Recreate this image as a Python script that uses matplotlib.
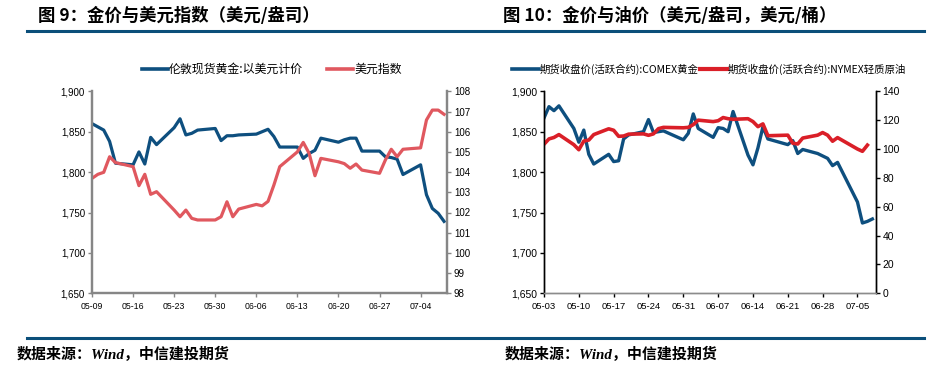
import pandas as pd
import matplotlib.pyplot as plt
from matplotlib.lines import Line2D
from matplotlib.transforms import Bbox, TransformedBbox

plt.rcParams['font.family'] = ['Liberation Sans', 'Noto Sans CJK SC']

# 图9：伦敦现货黄金 与 美元指数（交易日）
dates9 = pd.bdate_range('2022-05-09', '2022-07-08')
gold_spot = [1860, 1856, 1852, 1838, 1811,
             1809, 1825, 1810, 1843, 1834,
             1855, 1866, 1846, 1848, 1852,
             1854, 1839, 1845, 1845, 1846,
             1847, 1850, 1853, 1844, 1831,
             1831, 1817, 1823, 1827, 1842,
             1837, 1840, 1842, 1842, 1826,
             1826, 1819, 1818, 1816, 1797,
             1809, 1772, 1755, 1749, 1739]
usd_index = [103.69, 103.89, 103.99, 104.76, 104.47,
             104.27, 103.33, 103.89, 102.90, 103.03,
             102.12, 101.79, 102.12, 101.71, 101.63,
             101.63, 101.79, 102.53, 101.79, 102.17,
             102.40, 102.33, 102.55, 103.36, 104.27,
             105.00, 105.47, 104.93, 103.82, 104.68,
             104.51, 104.42, 104.19, 104.40, 104.10,
             103.94, 104.60, 105.13, 104.76, 105.13,
             105.20, 106.58, 107.07, 107.07, 106.86]

# 图10：COMEX黄金 与 NYMEX轻质原油（美国休市日无数据）
holidays10 = ['2022-05-30', '2022-06-20', '2022-07-04']
dates10 = pd.bdate_range('2022-05-03', '2022-07-08').drop(pd.to_datetime(holidays10))
comex_gold = [1867, 1881, 1876, 1882,
              1854, 1837, 1852, 1822, 1810,
              1822, 1813, 1814, 1841, 1846,
              1850, 1865, 1849, 1850, 1851,
              1840, 1848, 1872, 1854,
              1843, 1855, 1854, 1850, 1875,
              1821, 1809, 1830, 1856, 1841,
              1834, 1839, 1823, 1828,
              1823, 1820, 1817, 1808, 1812,
              1763, 1737, 1739, 1742]
wti_oil = [103.3, 107.0, 108.0, 110.0,
           103.0, 99.5, 105.5, 106.2, 110.0,
           114.0, 113.0, 108.8, 109.0, 110.3,
           110.5, 109.5, 110.5, 114.1, 115.0,
           114.7, 115.0, 116.9, 120.0,
           119.0, 119.6, 121.8, 121.0, 120.6,
           121.0, 119.0, 115.5, 117.4, 109.2,
           109.6, 104.0, 103.5, 107.6,
           109.6, 111.4, 109.6, 105.4, 107.9,
           100.0, 98.4, 102.7]

gold_ticks = [1650, 1700, 1750, 1800, 1850, 1900]
gold_labels = ['1,650', '1,700', '1,750', '1,800', '1,850', '1,900']
usd_ticks = list(range(98, 109))
oil_ticks = list(range(0, 141, 20))
xticks9 = pd.date_range('2022-05-09', '2022-07-04', freq='7D')
xticks10 = pd.date_range('2022-05-03', '2022-07-05', freq='7D')

BLUE = '#0E4F7F'
RED9 = '#E0585F'
RED10 = '#DA1F28'
BAR = '#0B4F7A'

W, H = 940, 378
fig = plt.figure(figsize=(9.4, 3.78), dpi=100)


def fx(px):
    return px / W


def fy(py):
    return 1 - py / H


def style_axis(ax, color, lw):
    ax.spines['top'].set_visible(False)
    for s in ['left', 'right', 'bottom']:
        ax.spines[s].set_color(color)
        ax.spines[s].set_linewidth(lw)
    ax.tick_params(axis='both', direction='out', length=3, width=1,
                   color=color, labelsize=7, labelcolor='black', pad=2)


# ---------- 图9 ----------
ax1 = fig.add_axes([fx(92), fy(293.3), fx(447 - 92), (293.3 - 91.3) / H])
ax1.plot(dates9, gold_spot, color=BLUE, lw=2.3, label='伦敦现货黄金:以美元计价')
ax1.set_ylim(1650, 1900)
ax1.set_yticks(gold_ticks)
ax1.set_yticklabels(gold_labels)
ax1.set_xlim(dates9[0], dates9[-1] + pd.Timedelta(hours=12))
ax1.set_xticks(xticks9)
ax1.set_xticklabels([d.strftime('%m-%d') for d in xticks9])
style_axis(ax1, '#868686', 1.6)
ax1.tick_params(axis='x', labelsize=6.3, pad=3)

ax1b = ax1.twinx()
ax1b.plot(dates9, usd_index, color=RED9, lw=2.3, label='美元指数')
ax1b.set_ylim(98, 108)
ax1b.set_yticks(usd_ticks)
style_axis(ax1b, '#868686', 1.6)

h1 = [Line2D([], [], color=BLUE, lw=2.6), Line2D([], [], color=RED9, lw=2.6)]
leg1 = fig.legend(h1, ['伦敦现货黄金:以美元计价', '美元指数'], loc='center left',
                  bbox_to_anchor=(fx(141.5), fy(69.3)), bbox_transform=fig.transFigure,
                  ncol=2, frameon=False, borderpad=0, borderaxespad=0,
                  handlelength=2.2, handletextpad=0.1, columnspacing=2.0,
                  prop={'family': 'Noto Sans CJK SC', 'size': 8.6})

# ---------- 图10 ----------
ax2 = fig.add_axes([fx(544), fy(293.3), fx(875.7 - 544), (293.3 - 91.3) / H])
ax2.plot(dates10, comex_gold, color=BLUE, lw=2.4)
ax2.set_ylim(1650, 1900)
ax2.set_yticks(gold_ticks)
ax2.set_yticklabels(gold_labels)
ax2.set_xlim(dates10[0], dates10[-1] + pd.Timedelta(hours=16))
ax2.set_xticks(xticks10)
ax2.set_xticklabels([d.strftime('%m-%d') for d in xticks10])
style_axis(ax2, 'black', 1.0)
ax2.spines['bottom'].set_color('#8C8C8C')
ax2.tick_params(axis='x', labelsize=6.8, pad=3, color='black')

ax2b = ax2.twinx()
ax2b.plot(dates10[:len(wti_oil)], wti_oil, color=RED10, lw=2.6)
ax2b.set_ylim(0, 140)
ax2b.set_yticks(oil_ticks)
style_axis(ax2b, 'black', 1.0)
ax2b.spines['bottom'].set_color('#8C8C8C')
ax2b.tick_params(axis='y', labelsize=7.5)
ax2.tick_params(axis='y', labelsize=7.5)

h2 = [Line2D([], [], color=BLUE, lw=2.6), Line2D([], [], color=RED10, lw=3.0)]
leg2 = fig.legend(h2, ['期货收盘价(活跃合约):COMEX黄金', '期货收盘价(活跃合约):NYMEX轻质原油'],
                  loc='center left', bbox_to_anchor=(fx(511.5), fy(69.3)),
                  bbox_transform=fig.transFigure, ncol=2, frameon=False,
                  borderpad=0, borderaxespad=0, handlelength=2.6,
                  handletextpad=0.1, columnspacing=0.1,
                  prop={'family': 'Noto Sans CJK SC', 'size': 7.5})
clip = TransformedBbox(Bbox.from_extents(0, 0, fx(906.7), 1), fig.transFigure)
for t in leg2.get_texts():
    t.set_clip_box(clip)
    t.set_clip_on(True)

# ---------- 标题、分隔线、来源 ----------
title_font = {'family': 'Noto Sans CJK SC', 'weight': 'bold', 'size': 12.5}
fig.text(fx(38), fy(15.5), '图 9：金价与美元指数（美元/盎司）', va='center', ha='left', **title_font)
fig.text(fx(503), fy(15.5), '图 10：金价与油价（美元/盎司，美元/桶）', va='center', ha='left', **title_font)

for yy in (30.5, 337.7):
    fig.add_artist(Line2D([fx(26.7), fx(924)], [fy(yy), fy(yy)], color=BAR, lw=2.2,
                          transform=fig.transFigure))

src_font = {'family': ['Liberation Serif', 'Noto Sans CJK SC'], 'weight': 'bold',
            'style': 'italic', 'size': 10.8}
fig.text(fx(17), fy(354), '数据来源：Wind，中信建投期货', va='center', ha='left', **src_font)
fig.text(fx(505), fy(354), '数据来源：Wind，中信建投期货', va='center', ha='left', **src_font)

fig.savefig('out.png', dpi=100)
